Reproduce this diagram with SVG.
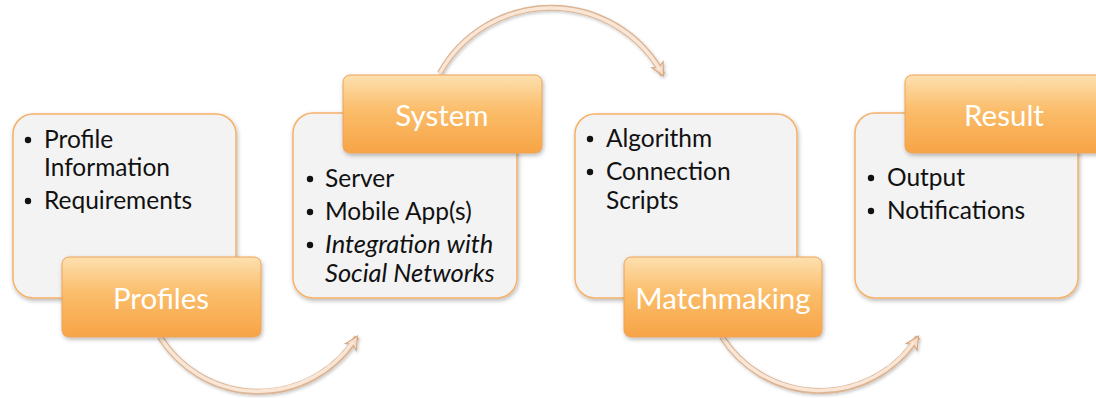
<svg xmlns="http://www.w3.org/2000/svg" width="1096" height="398" viewBox="0 0 1096 398">
<defs>
<style>
.card{fill:#f3f3f3;stroke:#f6b168;stroke-width:1.5;filter:url(#sh)}
.tag{fill:url(#og);stroke:#eea257;stroke-width:1;filter:url(#sh)}
.tt{font-family:Lato,"Liberation Sans",sans-serif;font-size:29.5px;fill:#ffffff;text-anchor:middle}
.bt{font-family:Lato,"Liberation Sans",sans-serif;font-size:24.5px;fill:#111111}
.it{font-style:italic;font-size:25.5px}
.arcO{fill:none;stroke:#dcb594;stroke-width:6;filter:url(#sh2)}
.arcI{fill:none;stroke:#f9e6d6;stroke-width:3.5}
</style>
<linearGradient id="og" x1="0" y1="0" x2="0" y2="1">
<stop offset="0" stop-color="#fde0b0"/>
<stop offset="0.45" stop-color="#fbbd6a"/>
<stop offset="1" stop-color="#f7a446"/>
</linearGradient>
<filter id="sh" x="-10%" y="-10%" width="125%" height="130%">
<feDropShadow dx="1" dy="2" stdDeviation="2" flood-color="#000" flood-opacity="0.28"/>
</filter>
<filter id="sh2" x="-10%" y="-20%" width="125%" height="150%">
<feDropShadow dx="1" dy="1.5" stdDeviation="1.5" flood-color="#000" flood-opacity="0.22"/>
</filter>
<marker id="ah" viewBox="0 0 14 14" refX="12" refY="7" markerWidth="15" markerHeight="15" markerUnits="userSpaceOnUse" orient="auto">
<path d="M1,1 L13,7 L1,13 L4,7 Z" fill="#f6dcc6" stroke="#d4a784" stroke-width="1"/>
</marker>
</defs>

<g id="connectors">
<path class="arcO" d="M160,337 A116,116 0 0 0 357,337" marker-end="url(#ah)"/>
<path class="arcI" d="M160,337 A116,116 0 0 0 353,342"/>
<path class="arcO" d="M440,73 A127,127 0 0 1 663,75" marker-end="url(#ah)"/>
<path class="arcI" d="M440,73 A127,127 0 0 1 660,70"/>
<path class="arcO" d="M722,337 A116,116 0 0 0 918,337" marker-end="url(#ah)"/>
<path class="arcI" d="M722,337 A116,116 0 0 0 914,342"/>
</g>

<g id="profiles-card">
<rect class="card" x="13" y="114" width="223" height="184" rx="20"/>
<circle cx="28" cy="140" r="3.2" fill="#111"/>
<text class="bt" x="44" y="148">Profile</text>
<text class="bt" x="44" y="176">Information</text>
<circle cx="28" cy="201" r="3.2" fill="#111"/>
<text class="bt" x="44" y="209">Requirements</text>
</g>
<g id="profiles">
<rect class="tag" x="62" y="257" width="199" height="80" rx="7"/>
<text class="tt" x="161" y="309">Profiles</text>
</g>

<g id="system-card">
<rect class="card" x="293" y="113" width="224" height="185" rx="20"/>
<circle cx="310" cy="179" r="3.2" fill="#111"/>
<text class="bt" x="325" y="187">Server</text>
<circle cx="310" cy="212" r="3.2" fill="#111"/>
<text class="bt" x="325" y="220">Mobile App(s)</text>
<circle cx="310" cy="245" r="3.2" fill="#111"/>
<text class="bt it" x="325" y="253">Integration with</text>
<text class="bt it" x="325" y="282">Social Networks</text>
</g>
<g id="system">
<rect class="tag" x="343" y="75" width="199" height="78" rx="7"/>
<text class="tt" x="442" y="126">System</text>
</g>

<g id="matchmaking-card">
<rect class="card" x="575" y="114" width="222" height="184" rx="20"/>
<circle cx="590" cy="139" r="3.2" fill="#111"/>
<text class="bt" x="606" y="147">Algorithm</text>
<circle cx="590" cy="172" r="3.2" fill="#111"/>
<text class="bt" x="606" y="180">Connection</text>
<text class="bt" x="606" y="209">Scripts</text>
</g>
<g id="matchmaking">
<rect class="tag" x="624" y="257" width="198" height="80" rx="7"/>
<text class="tt" x="723" y="309">Matchmaking</text>
</g>

<g id="result-card">
<rect class="card" x="855" y="113" width="223" height="185" rx="20"/>
<circle cx="871" cy="178" r="3.2" fill="#111"/>
<text class="bt" x="887" y="186">Output</text>
<circle cx="871" cy="211" r="3.2" fill="#111"/>
<text class="bt" x="887" y="219">Notifications</text>
</g>
<g id="result">
<rect class="tag" x="905" y="75" width="200" height="78" rx="7"/>
<text class="tt" x="1004" y="126">Result</text>
</g>
</svg>
